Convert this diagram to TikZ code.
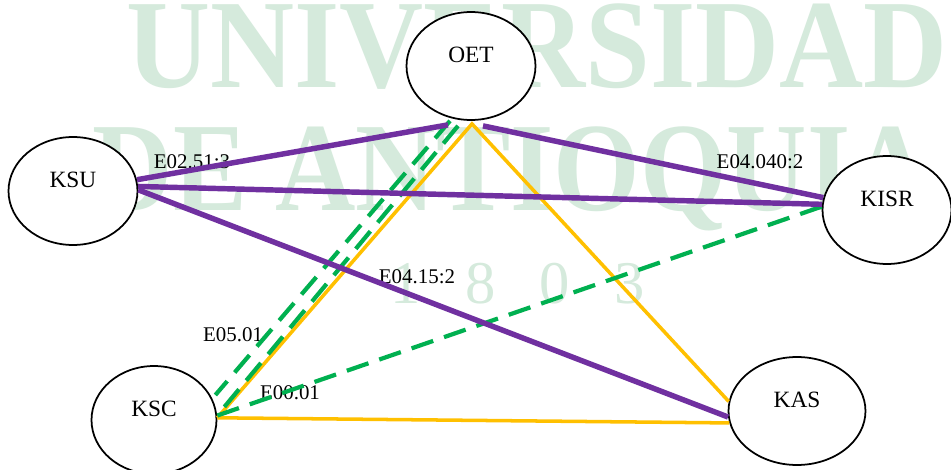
\documentclass[tikz,border=0pt]{standalone}
\usepackage{fontspec}
\setmainfont{Liberation Serif}
\usetikzlibrary{shapes.geometric,calc}
\definecolor{pur}{HTML}{7030A0}
\definecolor{amb}{HTML}{FFC000}
\definecolor{grn}{HTML}{00B050}
\definecolor{wm}{HTML}{D5EADC}
\tikzset{
  org/.style={ellipse,draw,fill=white,line width=1pt,minimum width=2.58cm,minimum height=2.16cm,inner sep=0pt,
    font=\fontsize{13.3}{14}\selectfont,text height=2mm,text depth=3.6mm},
  lk/.style={inner sep=0pt,font=\fontsize{11.9}{13}\selectfont},
  pl/.style={pur,line width=3.1pt},
  ol/.style={amb,line width=2pt},
  gl/.style={grn,line width=2.4pt,dash pattern=on 13pt off 6.5pt},
  wmk/.style={wm,inner sep=0pt,anchor=base},
  wmbig/.style={wmk,font=\fontsize{72}{72}\selectfont\bfseries,transform shape},
}
\begin{document}
\begin{tikzpicture}[x=0.02cm,y=-0.02cm]
\fill[white] (0,0) rectangle (951,470);
\useasboundingbox (0,0) rectangle (951,470);
% watermark
\node[wmbig,xscale=.92] (wmA) at (537,87) {UNIVERSIDAD};
\node[wmbig,xscale=.88] (wmB) at (512,210) {DE ANTIOQUIA};
\foreach \d/\x in {1/406,8/481,0/555,3/630}
  \node[wmk,font=\fontsize{34.5}{35}\selectfont] (yr\d) at (\x,303) {\d};
% sites
\node[org] (OET) at (471,66) {OET};
\node[org] (KSU) at (73,191) {KSU};
\node[org] (KISR) at (887,210) {KISR};
\node[org,minimum width=2.5cm] (KSC) at (154,420) {KSC};
\node[org,minimum width=2.74cm] (KAS) at (797,411) {KAS};
% labels
\node[lk] (e1) at (192,162) {E02.51:3};
\node[lk] (e2) at (760,162) {E04.040:2};
\node[lk] (e3) at (417,277) {E04.15:2};
\node[lk] (e4) at (233,335) {E05.01};
\node[lk] (e5) at (290,393) {E00.01};
% links
\draw[ol] (KSC.2) -- ($(OET.south)+(1,3)$) -- (KAS.172);
\draw[ol] (KSC.2) -- (KAS.190);
\draw[gl] ($(OET.south)+(-21,0)$) -- ($(KSC.east)+(-2,-25)$);
\draw[gl] ($(OET.south)+(-13,5)$) -- (KSC.4);
\draw[gl] (KISR.177) -- (KSC.4);
\draw[pl] (KSU.10) -- ($(OET.south)+(-23,4)$);
\draw[pl] (KSU.4) -- (KISR.175);
\draw[pl] (KSU.1) -- (KAS.185);
\draw[pl] ($(OET.south)+(12,5)$) -- (KISR.169);
\end{tikzpicture}
\end{document}
